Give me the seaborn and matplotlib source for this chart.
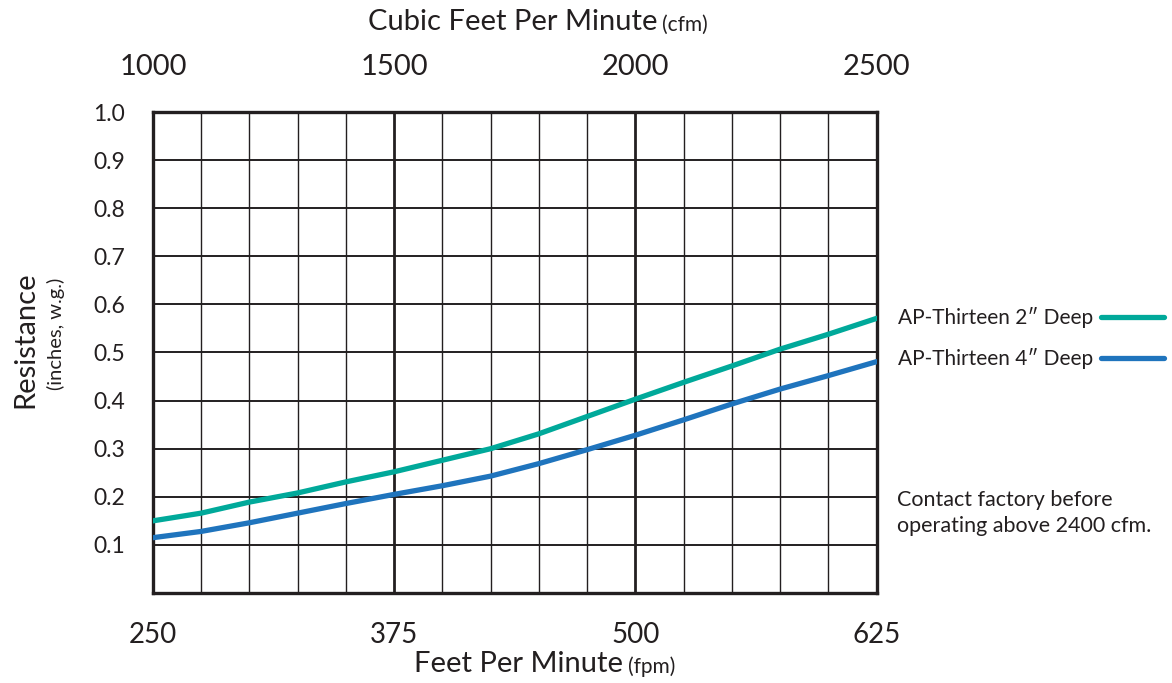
import pandas as pd
import matplotlib.pyplot as plt
import seaborn as sns

# fpm values (every 25 fpm grid line)
fpm = [250, 275, 300, 325, 350, 375, 400, 425, 450, 475, 500, 525, 550, 575, 600, 625]
deep_2in = [0.150, 0.166, 0.189, 0.208, 0.231, 0.252, 0.276, 0.300, 0.331, 0.367,
            0.403, 0.438, 0.472, 0.507, 0.538, 0.571]
deep_4in = [0.115, 0.128, 0.146, 0.166, 0.186, 0.205, 0.223, 0.243, 0.269, 0.298,
            0.328, 0.360, 0.393, 0.424, 0.452, 0.481]
series_names = ["AP-Thirteen 2\u2033 Deep", "AP-Thirteen 4\u2033 Deep"]
colors = ["#00a99a", "#1f74bd"]

fpm_ticks = [250, 375, 500, 625]
cfm_ticks = [1000, 1500, 2000, 2500]
y_ticks = [0.1, 0.2, 0.3, 0.4, 0.5, 0.6, 0.7, 0.8, 0.9, 1.0]

df = pd.DataFrame({
    "fpm": fpm * 2,
    "resistance": deep_2in + deep_4in,
    "series": [series_names[0]] * len(fpm) + [series_names[1]] * len(fpm),
})

sns.set_style("white")
plt.rcParams['font.family'] = ['Lato', 'DejaVu Sans']
ink = "#231f20"

fig = plt.figure(figsize=(11.72, 6.83), dpi=100)
ax = fig.add_axes([0.1305, 0.1318, 0.6175, 0.7042])

# grid: thin lines every 25 fpm / 0.1, heavier at 375 and 500
for x in range(275, 625, 25):
    lw = 2.0 if x in (375, 500) else 1.0
    ax.axvline(x, color=ink, lw=lw, zorder=1)
for y in y_ticks[:-1]:
    ax.axhline(y, color=ink, lw=1.4, zorder=1)

sns.lineplot(data=df, x="fpm", y="resistance", hue="series", palette=colors,
             linewidth=3.8, ax=ax, legend=False, zorder=3)

ax.set_xlim(250, 625)
ax.set_ylim(0, 1.0)
ax.set_xticks(fpm_ticks)
ax.set_xticklabels([str(v) for v in fpm_ticks], fontsize=20, color=ink)
ax.set_yticks(y_ticks)
ax.set_yticklabels([f"{v:.1f}" for v in y_ticks], fontsize=16.5, color=ink)
ax.tick_params(axis="x", length=0, pad=21)
ax.tick_params(axis="y", length=0, pad=20)
ax.set_xlabel("")
ax.set_ylabel("")
for s in ax.spines.values():
    s.set_visible(True)
    s.set_color(ink)
    s.set_linewidth(2.4)

top = ax.secondary_xaxis("top", functions=(lambda x: x * 4, lambda x: x / 4))
top.set_xticks(cfm_ticks)
top.set_xticklabels([str(v) for v in cfm_ticks], fontsize=21, color=ink)
top.tick_params(length=0, pad=23)
top.spines["top"].set_visible(False)

# axis titles with smaller unit part
fig.text(657 / 1172, 1 - 22 / 683, "Cubic Feet Per Minute", ha="right", va="center",
         fontsize=21, color=ink)
fig.text(662 / 1172, 1 - 25 / 683, "(cfm)", ha="left", va="center", fontsize=15, color=ink)
fig.text(623 / 1172, 1 - 664 / 683, "Feet Per Minute", ha="right", va="center",
         fontsize=21, color=ink)
fig.text(628 / 1172, 1 - 667 / 683, "(fpm)", ha="left", va="center", fontsize=15, color=ink)
fig.text(25 / 1172, 1 - 340 / 683, "Resistance", rotation=90, ha="center", va="center",
         fontsize=21, color=ink)
fig.text(56 / 1172, 1 - 334 / 683, "(inches, w.g.)", rotation=90, ha="center", va="center",
         fontsize=14.5, color=ink)

# legend: text then line
handles = [plt.Line2D([], [], color=c, lw=3.8) for c in colors]
fig.legend(handles, series_names, loc="upper right", bbox_to_anchor=(1.0, 1 - 299 / 683),
           markerfirst=False, frameon=False, fontsize=15, handlelength=3.0,
           handletextpad=0.4, labelspacing=0.95, borderaxespad=0.0,
           labelcolor=ink)

fig.text(897 / 1172, 1 - 513 / 683, "Contact factory before\noperating above 2400 cfm.",
         ha="left", va="center", fontsize=15.5, color=ink, linespacing=1.4)

fig.savefig("out.png", dpi=100)
